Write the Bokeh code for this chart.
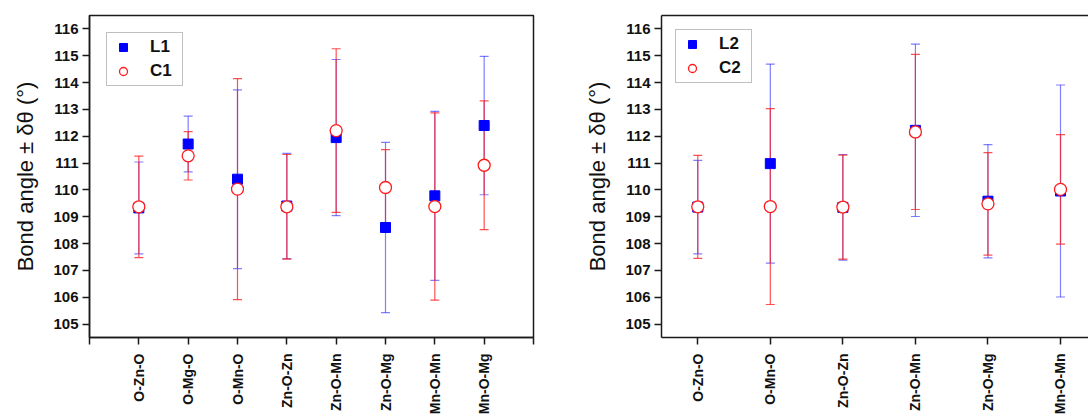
import math
from bokeh.plotting import figure
from bokeh.layouts import row
from bokeh.models import (ColumnDataSource, Whisker, TeeHead, FixedTicker, Legend,
                          LegendItem, Range1d, LinearAxis)
from bokeh.embed import file_html
from bokeh.resources import INLINE

# ---------------- data ----------------
cats1 = ["O-Zn-O", "O-Mg-O", "O-Mn-O", "Zn-O-Zn", "Zn-O-Mn", "Zn-O-Mg", "Mn-O-Mn", "Mn-O-Mg"]
L1 = [109.33, 111.71, 110.40, 109.40, 111.95, 108.60, 109.78, 112.40]
L1_err = [1.71, 1.04, 3.33, 1.96, 2.91, 3.17, 3.15, 2.58]
C1 = [109.37, 111.27, 110.03, 109.37, 112.21, 110.09, 109.38, 110.92]
C1_err = [1.89, 0.90, 4.12, 1.95, 3.05, 1.41, 3.49, 2.40]

cats2 = ["O-Zn-O", "O-Mn-O", "Zn-O-Zn", "Zn-O-Mn", "Zn-O-Mg", "Mn-O-Mn"]
L2 = [109.36, 110.98, 109.35, 112.22, 109.58, 109.96]
L2_err = [1.74, 3.71, 1.97, 3.21, 2.11, 3.95]
C2 = [109.37, 109.38, 109.36, 112.16, 109.48, 110.02]
C2_err = [1.92, 3.65, 1.94, 2.89, 1.91, 2.04]

y_ticks = list(range(105, 117))
y_label = "Bond angle \u00b1 \u03b4\u03b8 (\u00b0)"

FONT = "Liberation Sans"
BLUE = "#0000ff"
RED = "#ff1a1a"
FRAME = "#1a1a1a"


def style_axes(p):
    for ax in p.yaxis:
        ax.ticker = FixedTicker(ticks=y_ticks)
        ax.minor_tick_line_color = None
        ax.major_tick_out = 7
        ax.major_tick_in = 0
        ax.major_tick_line_width = 1.5
        ax.major_tick_line_color = FRAME
        ax.axis_line_width = 1.5
        ax.axis_line_color = FRAME
        ax.major_label_text_font = FONT
        ax.major_label_text_font_style = "bold"
        ax.major_label_text_font_size = "15px"
        ax.major_label_text_color = "#111111"
        ax.major_label_standoff = 4
        ax.axis_label = y_label
        ax.axis_label_text_font = FONT
        ax.axis_label_text_font_style = "normal"
        ax.axis_label_text_font_size = "22px"
        ax.axis_label_text_color = "#111111"
        ax.axis_label_standoff = 12
    for ax in p.below:
        ax.minor_tick_line_color = None
        ax.major_tick_out = 7
        ax.major_tick_in = 0
        ax.major_tick_line_width = 1.5
        ax.major_tick_line_color = FRAME
        ax.axis_line_width = 1.5
        ax.axis_line_color = FRAME
        ax.major_label_text_font = FONT
        ax.major_label_text_font_style = "bold"
        ax.major_label_text_font_size = "14px"
        ax.major_label_text_color = "#111111"
        ax.major_label_orientation = math.pi / 2
        ax.major_label_standoff = 9
    p.xgrid.visible = False
    p.ygrid.visible = False
    p.background_fill_color = "white"
    p.border_fill_color = "white"


def add_series(p, cats, Lv, Le, Cv, Ce, lname, cname):
    xs = list(range(1, len(cats) + 1))
    sL = ColumnDataSource(dict(x=xs, y=Lv, lo=[v - e for v, e in zip(Lv, Le)],
                               hi=[v + e for v, e in zip(Lv, Le)]))
    sC = ColumnDataSource(dict(x=xs, y=Cv, lo=[v - e for v, e in zip(Cv, Ce)],
                               hi=[v + e for v, e in zip(Cv, Ce)]))
    wl = Whisker(source=sL, base="x", upper="hi", lower="lo",
                 line_color=BLUE, line_alpha=0.5, line_width=1.2,
                 upper_head=TeeHead(size=9, line_color=BLUE, line_alpha=0.5, line_width=1.2),
                 lower_head=TeeHead(size=9, line_color=BLUE, line_alpha=0.5, line_width=1.2))
    wc = Whisker(source=sC, base="x", upper="hi", lower="lo",
                 line_color=RED, line_alpha=0.75, line_width=1.2,
                 upper_head=TeeHead(size=9, line_color=RED, line_alpha=0.75, line_width=1.2),
                 lower_head=TeeHead(size=9, line_color=RED, line_alpha=0.75, line_width=1.2))
    p.add_layout(wl)
    p.add_layout(wc)
    rL = p.scatter("x", "y", source=sL, marker="square", size=10,
                   fill_color=BLUE, line_color=BLUE, line_width=1)
    rC = p.scatter("x", "y", source=sC, marker="circle", size=12,
                   fill_color="white", line_color=RED, line_width=1.3)
    leg = Legend(items=[LegendItem(label=lname, renderers=[rL]),
                        LegendItem(label=cname, renderers=[rC])])
    leg.location = "top_left"
    leg.label_text_font = FONT
    leg.label_text_font_style = "bold"
    leg.label_text_font_size = "17px"
    leg.label_text_color = "#111111"
    leg.glyph_width = 24
    leg.glyph_height = 20
    leg.label_height = 20
    leg.label_width = 28
    leg.label_standoff = 15
    leg.padding = 4
    leg.spacing = 4
    leg.border_line_color = "#808080"
    leg.border_line_width = 1.5
    leg.background_fill_color = "white"
    leg.background_fill_alpha = 1
    p.add_layout(leg)
    return leg


# ---------------- left panel ----------------
p1 = figure(width=580, height=417, output_backend="svg", toolbar_location=None,
            x_range=Range1d(0, 9), y_range=Range1d(104.5, 116.5),
            min_border_left=89, min_border_right=47, min_border_top=14, min_border_bottom=77)
p1.outline_line_color = FRAME
p1.outline_line_width = 1.5
style_axes(p1)
p1.xaxis.ticker = FixedTicker(ticks=list(range(0, 10)))
ov = {0: "", 9: ""}
for i, c in enumerate(cats1):
    ov[i + 1] = c
p1.xaxis.major_label_overrides = ov
leg1 = add_series(p1, cats1, L1, L1_err, C1, C1_err, "L1", "C1")
leg1.margin = 17

# ---------------- right panel ----------------
p2 = figure(width=508, height=417, output_backend="svg", toolbar_location=None,
            x_range=Range1d(0.5, 6.386), y_range=Range1d(104.5, 116.5),
            min_border_left=81, min_border_right=0, min_border_top=15, min_border_bottom=77)
p2.outline_line_color = None
top_ax = LinearAxis(ticker=FixedTicker(ticks=[]), major_tick_line_color=None,
                    minor_tick_line_color=None, major_tick_out=0, major_label_standoff=0,
                    axis_line_color=FRAME, axis_line_width=1.5)
p2.add_layout(top_ax, "above")
style_axes(p2)
p2.below[0].ticker = FixedTicker(ticks=list(range(1, 7)))
p2.below[0].major_label_overrides = {i + 1: c for i, c in enumerate(cats2)}
leg2 = add_series(p2, cats2, L2, L2_err, C2, C2_err, "L2", "C2")
leg2.margin = 14

layout = row(p1, p2)
open("out.html", "w").write(file_html(layout, INLINE))
